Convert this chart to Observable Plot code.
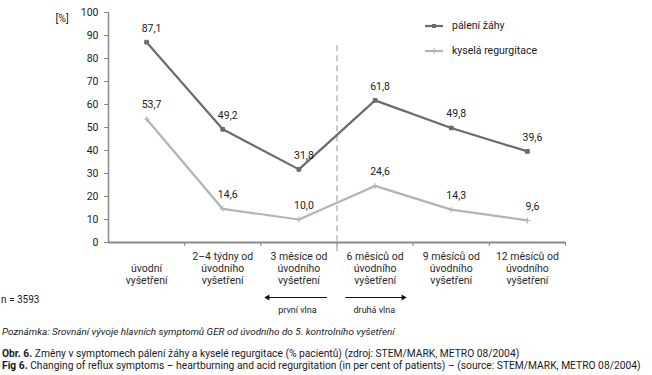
<!DOCTYPE html>
<html>
<head>
<meta charset="utf-8">
<script src="https://cdn.jsdelivr.net/npm/d3@7"></script>
<script src="https://cdn.jsdelivr.net/npm/@observablehq/plot@0.6"></script>
<style>
  body { margin: 0; background: #fff; }
  #wrap { position: relative; width: 652px; height: 375px; font-family: Roboto, "Noto Sans", sans-serif; color: #1a1a1a; overflow: hidden; }
  .abs { position: absolute; white-space: nowrap; line-height: 1; }
  .leg { position: absolute; left: 425px; font-size: 10.5px; display: flex; align-items: center; }
  .leg svg { margin-right: 9px; }
</style>
</head>
<body>
<div id="wrap"></div>
<script>
const categories = [
  "úvodní\nvyšetření",
  "2–4 týdny od\núvodního\nvyšetření",
  "3 měsíce od\núvodního\nvyšetření",
  "6 měsíců od\núvodního\nvyšetření",
  "9 měsíců od\núvodního\nvyšetření",
  "12 měsíců od\núvodního\nvyšetření"
];
const seriesNames = ["pálení žáhy", "kyselá regurgitace"];
const heartburn = [87.1, 49.2, 31.8, 61.8, 49.8, 39.6];
const regurgitation = [53.7, 14.6, 10.0, 24.6, 14.3, 9.6];
const yTicks = [0, 10, 20, 30, 40, 50, 60, 70, 80, 90, 100];
const waveLabels = ["první vlna", "druhá vlna"];
const sampleNote = "n = 3593";
const noteText = "Poznámka: Srovnání vývoje hlavních symptomů GER od úvodního do 5. kontrolního vyšetření";
const captionCz = ["Obr. 6.", " Změny v symptomech pálení žáhy a kyselé regurgitace (% pacientů) (zdroj: STEM/MARK, METRO 08/2004)"];
const captionEn = ["Fig 6.", " Changing of reflux symptoms – heartburning and acid regurgitation (in per cent of patients) – (source: STEM/MARK, METRO 08/2004)"];

const colors = ["#6b6b6b", "#b3b3b3"];
const symbols = ["square", "plus"];
const divider = 3; // index between first and second wave

const data = [];
[heartburn, regurgitation].forEach((vals, s) => {
  vals.forEach((v, i) => data.push({series: seriesNames[s], i, x: i + 0.5, v}));
});
const fmt = v => d3.format(".1f")(v).replace(".", ",");

const waves = [
  {label: waveLabels[0], x1: divider - 0.13, x2: divider - 0.91, dir: -90},
  {label: waveLabels[1], x1: divider + 0.11, x2: divider + 0.87, dir: 90}
];

const chart = Plot.plot({
  width: 652,
  height: 318,
  marginLeft: 108,
  marginRight: 87,
  marginTop: 12,
  marginBottom: 76,
  x: {type: "linear", domain: [0, 6], axis: null},
  y: {domain: [0, 100], axis: null},
  color: {domain: seriesNames, range: colors},
  style: {fontFamily: "Roboto, 'Noto Sans', sans-serif", fontSize: "10px", color: "#1a1a1a", overflow: "visible", background: "#fff"},
  marks: [
    Plot.axisY(yTicks, {tickSize: 4, tickPadding: 6, stroke: "#8a8a8a", fontSize: 10.5, label: null}),
    Plot.ruleX([0], {y1: 0, y2: 100, stroke: "#8a8a8a", strokeWidth: 1.5}),
    Plot.ruleX(d3.range(1, 7), {y1: 0, y2: -1.6, stroke: "#8a8a8a", strokeWidth: 1.2}),
    Plot.ruleY([0], {x1: 0, x2: 6, stroke: "#8a8a8a", strokeWidth: 2}),
    Plot.ruleX([divider], {y1: -4, y2: 86, stroke: "#a8a8a8", strokeWidth: 1.2, strokeDasharray: "6,4"}),
    Plot.text(["[%]"], {frameAnchor: "top-left", dx: -53, dy: 2, fontSize: 10.5}),
    Plot.line(data, {x: "x", y: "v", z: "series", stroke: "series", strokeWidth: 2.2}),
    Plot.dot(data, {x: "x", y: "v", fill: "series", stroke: "series", symbol: d => symbols[seriesNames.indexOf(d.series)], r: 2.1, strokeWidth: 1}),
    Plot.text(data, {x: "x", y: "v", text: d => fmt(d.v), dx: 5, dy: -14, fontSize: 10.5, fill: "#1a1a1a"}),
    Plot.text(categories, {x: (d, i) => i + 0.5, y: 0, text: d => d, lineAnchor: "bottom", dy: 41, lineHeight: 1.1, fontSize: 10.5, fill: "#2a2a2a"}),
    Plot.link(waves, {x1: "x1", x2: "x2", y1: 0, y2: 0, dy: 55, stroke: "#111", strokeWidth: 1}),
    Plot.dot(waves, {x: "x2", y: 0, dy: 55, symbol: "triangle", r: 2.2, fill: "#111", stroke: "none", rotate: "dir"}),
    Plot.text(waves, {x: d => (d.x1 + d.x2) / 2, y: 0, dy: 68, text: "label", fontSize: 9, fill: "#1a1a1a"})
  ]
});

const wrap = document.getElementById("wrap");
wrap.appendChild(chart);

// legend
seriesNames.forEach((name, s) => {
  const row = document.createElement("div");
  row.className = "leg";
  row.style.top = (s === 0 ? 19 : 44) + "px";
  const sw = d3.create("svg").attr("width", 18).attr("height", 10);
  sw.append("line").attr("x1", 0).attr("x2", 18).attr("y1", 5).attr("y2", 5)
    .attr("stroke", colors[s]).attr("stroke-width", 2.2);
  if (s === 0) sw.append("rect").attr("x", 7).attr("y", 3).attr("width", 4).attr("height", 4).attr("fill", colors[s]);
  else sw.append("line").attr("x1", 9).attr("x2", 9).attr("y1", 2).attr("y2", 8).attr("stroke", colors[s]).attr("stroke-width", 1);
  row.appendChild(sw.node());
  const t = document.createElement("span");
  t.textContent = name;
  row.appendChild(t);
  wrap.appendChild(row);
});

function addText(content, left, top, size, style = "") {
  const d = document.createElement("div");
  d.className = "abs";
  d.style.left = left + "px";
  d.style.top = top + "px";
  d.style.fontSize = size + "px";
  d.style.cssText += style;
  if (Array.isArray(content)) {
    const b = document.createElement("b");
    b.textContent = content[0];
    d.appendChild(b);
    d.appendChild(document.createTextNode(content[1]));
  } else d.textContent = content;
  wrap.appendChild(d);
  return d;
}
addText(sampleNote, 1, 295, 10);
const note = addText(noteText, 2, 327, 10, "font-style: italic;");
const cz = addText(captionCz, 2, 349, 10);
const en = addText(captionEn, 2, 361, 10);
// fit the English caption to the reference width (ends near x = 643), same size for Czech line
const w = en.getBoundingClientRect().width;
const fitSize = Math.min(10.8, 10 * 640 / w);
en.style.fontSize = fitSize + "px";
cz.style.fontSize = fitSize + "px";
const wn = note.getBoundingClientRect().width;
note.style.fontSize = Math.min(10.8, 10 * 393 / wn) + "px";
</script>
</body>
</html>
